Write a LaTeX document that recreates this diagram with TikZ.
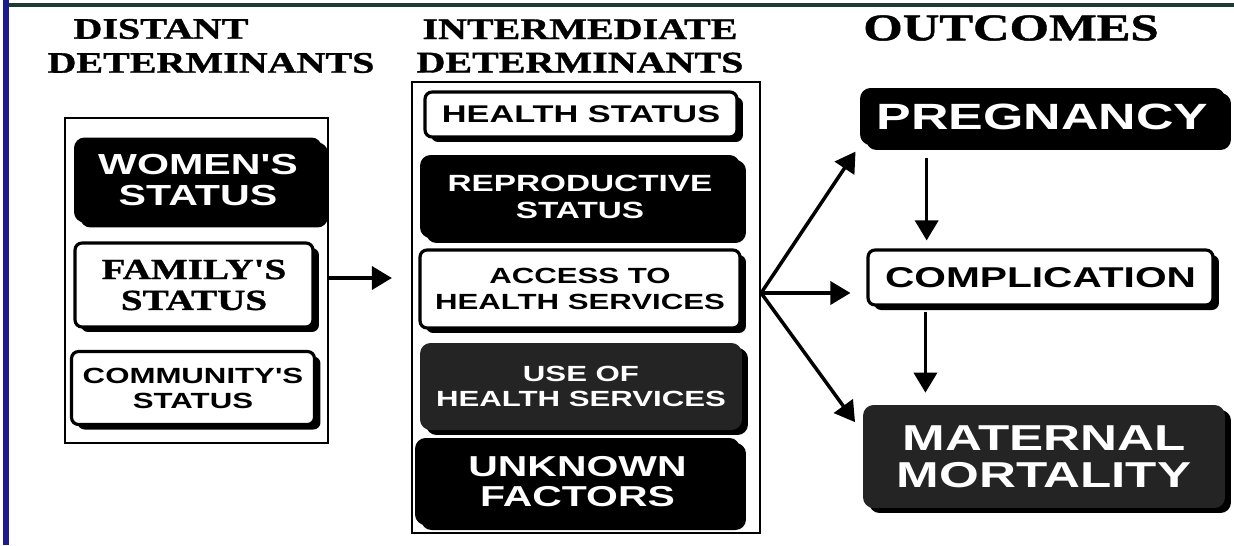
\documentclass[tikz,border=0pt]{standalone}
\usepackage{fontspec}
\newfontfamily\headfont[FakeStretch=1.34, FakeBold=1.2]{Liberation Serif}
\newfontfamily\boxfont[FakeStretch=1.42]{Liberation Sans}
\definecolor{edgenavy}{RGB}{28,28,140}
\definecolor{edgeslate}{RGB}{30,58,50}
\usetikzlibrary{arrows.meta, positioning, calc, shadows}

\begin{document}
\begin{tikzpicture}[x=0.02cm, y=-0.02cm,
      frame/.style={draw, line width=1.3pt},
      head/.style={font=\headfont\bfseries, align=center, inner sep=0pt},
      darkbox/.style={rectangle, rounded corners=6pt, fill=black, text=white,
                      align=center, inner sep=0pt, font=\boxfont\bfseries,
                      drop shadow={shadow xshift=0.12cm, shadow yshift=-0.1cm,
                                   fill=black, opacity=1}},
      greybox/.style={darkbox, fill=black!86},
      lightbox/.style={darkbox, fill=white, text=black, draw=black,
                       line width=1.8pt, rounded corners=4pt},
      arr/.style={-{Triangle[length=0.4cm, width=0.46cm]}, line width=2pt}
    ]
    \useasboundingbox (0,0) rectangle (1234,545);
    \fill[white] (0,0) rectangle (1234,545);
    \draw[edgeslate, line width=2pt] (6,5) -- (1234,5);
    \draw[edgenavy, line width=3.5pt] (6,0) -- (6,545);

    % column headings
    \node[head, font=\headfont\bfseries\fontsize{17}{19}\selectfont] (hdist) at (161,29) {DISTANT};
    \node[head, font=\headfont\bfseries\fontsize{17}{19}\selectfont] (hdet) at (211,63) {DETERMINANTS};
    \node[head, font=\headfont\bfseries\fontsize{17}{19}\selectfont] (hinter) at (580,46) {INTERMEDIATE\\DETERMINANTS};
    \node[head, font=\headfont\bfseries\fontsize{21.5}{24}\selectfont] (hout) at (1011,28) {OUTCOMES};

    % distant determinants
    \node[frame, minimum width=5.26cm, minimum height=6.5cm] (leftbox) at (196.5,280.5) {};
    \node[darkbox, minimum width=4.96cm, minimum height=1.7cm,
          font=\boxfont\bfseries\fontsize{16.5}{17.5}\selectfont] (women) at (198,180) {WOMEN'S\\STATUS};
    \node[lightbox, minimum width=4.76cm, minimum height=1.68cm,
          font=\headfont\bfseries\fontsize{16.6}{17.6}\selectfont] (family) at (194,285) {FAMILY'S\\STATUS};
    \node[lightbox, minimum width=4.86cm, minimum height=1.46cm,
          font=\boxfont\bfseries\fontsize{12.5}{14.2}\selectfont] (commun) at (193,388) {COMMUNITY'S\\STATUS};

    % intermediate determinants
    \node[frame, minimum width=6.96cm, minimum height=9.02cm] (midbox) at (586,307.5) {};
    \node[lightbox, minimum width=6.24cm, minimum height=0.9cm,
          font=\boxfont\bfseries\fontsize{13.75}{15}\selectfont] (health) at (581,114.5) {HEALTH STATUS};
    \node[darkbox, minimum width=6.4cm, minimum height=1.66cm,
          font=\boxfont\bfseries\fontsize{13.35}{15.4}\selectfont] (repro) at (580,196.5) {REPRODUCTIVE\\STATUS};
    \node[lightbox, minimum width=6.4cm, minimum height=1.56cm,
          font=\boxfont\bfseries\fontsize{12.5}{14.8}\selectfont] (access) at (580,289) {ACCESS TO\\HEALTH SERVICES};
    \node[greybox, minimum width=6.44cm, minimum height=1.74cm,
          font=\boxfont\bfseries\fontsize{12.5}{14}\selectfont] (use) at (581,386.5) {USE OF\\HEALTH SERVICES};
    \node[darkbox, minimum width=6.5cm, minimum height=1.74cm,
          font=\boxfont\bfseries\fontsize{16.4}{17}\selectfont] (unknown) at (577.5,481.5) {UNKNOWN\\FACTORS};

    % outcomes
    \node[darkbox, minimum width=7.3cm, minimum height=1.14cm,
          font=\boxfont\bfseries\fontsize{20.8}{22}\selectfont] (preg) at (1042.5,116.5) {PREGNANCY};
    \node[lightbox, minimum width=6.9cm, minimum height=1.1cm,
          font=\boxfont\bfseries\fontsize{16.3}{18}\selectfont] (compl) at (1040.5,277.5) {COMPLICATION};
    \node[greybox, minimum width=7.24cm, minimum height=2.06cm,
          font=\boxfont\bfseries\fontsize{20.5}{21}\selectfont] (mort) at (1044,456.5) {MATERNAL\\MORTALITY};

    % connectors
    \coordinate (hub) at (midbox.east |- 0,293);
    \coordinate (down1) at ([xshift=1.34cm]preg.south west);
    \coordinate (down2) at ([xshift=1.18cm]compl.south west);

    \draw[arr, shorten >=0.38cm] (leftbox.east |- 0,278) -- (midbox.west |- 0,278);
    \draw[arr, shorten >=0.15cm] (hub) -- (preg.south west);
    \draw[arr, shorten >=0.32cm] (hub) -- (compl.west |- hub);
    \draw[arr, shorten >=0.26cm] (hub) -- ($(mort.north west)!0.27!(mort.south west)$);
    \draw[arr, shorten <=0.26cm, shorten >=0.16cm] (down1) -- (down1 |- compl.north);
    \draw[arr, shorten <=0.1cm, shorten >=0.24cm] (down2) -- (down2 |- mort.north);
  \end{tikzpicture}
\end{document}
